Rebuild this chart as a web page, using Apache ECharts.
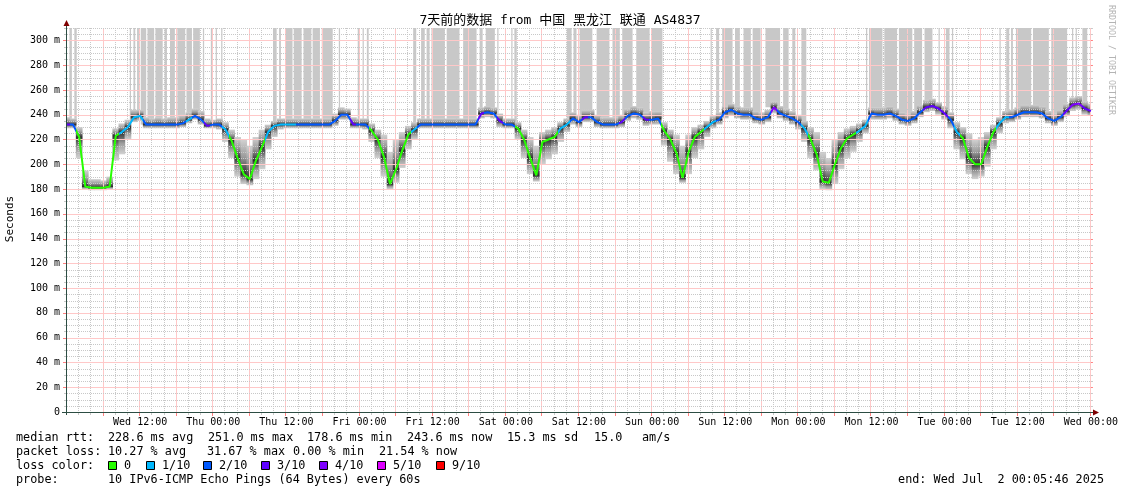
<!DOCTYPE html>
<html><head><meta charset="utf-8">
<script src="https://cdn.jsdelivr.net/npm/echarts@6/dist/echarts.min.js"></script>
<style>html,body{margin:0;padding:0;background:#fff}#c{width:1121px;height:494px}</style>
</head><body><div id="c"></div><script>
// hours since Wed Jun 25 00:00
const medianRtt = [
232,232,222,182,181,181,181,182,223,226,
230,238,239,232,232,232,232,232,232,233,
236,239,236,231,232,232,228,219,205,192,
188,203,214,226,231,232,232,232,232,232,
232,232,232,232,235,240,240,232,232,232,
227,220,206,184,196,211,224,228,232,232,
232,232,232,232,232,232,232,232,241,242,
241,235,232,232,229,220,205,191,218,220,
222,229,232,237,234,238,238,234,232,232,
232,234,239,241,240,236,236,237,227,220,
209,189,210,222,226,230,234,236,242,244,
241,240,240,237,236,238,246,241,239,237,
234,229,220,208,186,185,200,213,221,224,
227,231,241,240,240,241,239,236,235,237,
242,246,247,245,241,236,226,221,205,200,
200,214,226,233,238,238,240,242,242,242,
241,237,235,238,243,248,249,245,243];
const smokeLow = [
229,229,205,180,179,179,179,180,203,208,
220,234,235,229,229,229,229,229,229,230,
233,236,232,229,229,228,218,205,190,184,
183,188,196,212,222,228,229,229,229,229,
229,229,229,229,231,236,236,229,229,228,
218,205,190,180,185,197,212,220,229,229,
229,229,229,229,229,229,229,229,237,238,
237,230,229,229,220,205,192,186,200,204,
208,218,226,232,230,234,234,230,229,229,
229,230,235,237,236,231,232,232,215,202,
192,185,192,205,212,222,229,232,237,239,
237,236,236,233,232,234,241,237,235,232,
228,218,205,195,180,179,184,196,205,210,
218,225,236,236,236,237,235,232,231,233,
238,242,243,240,236,229,212,204,192,188,
190,198,212,225,233,234,236,238,238,238,
237,233,231,234,239,243,244,240,239];
const smokeHigh = [
238,237,230,195,188,188,187,190,229,233,
236,244,244,238,237,238,237,238,238,240,
242,245,243,237,236,237,234,228,222,220,
215,222,228,232,235,237,237,237,237,237,
237,237,237,237,241,246,245,238,237,237,
233,228,224,210,220,226,231,234,237,237,
237,237,237,237,237,237,237,237,246,247,
246,241,237,237,234,228,222,215,226,228,
230,234,237,242,240,244,244,240,238,238,
238,240,245,247,246,242,243,243,234,228,
224,215,224,230,232,235,239,242,247,249,
247,246,246,243,242,244,251,247,245,243,
240,235,230,226,210,205,220,226,229,231,
233,236,246,246,246,247,245,242,241,243,
248,252,253,250,247,242,234,230,225,220,
222,226,232,238,243,244,246,248,248,248,
247,243,241,244,249,254,255,251,249];
// loss level index: 0=0, 1=1/10, 2=2/10, 3=3/10, 4=4/10, 5=5/10, 6=9/10
const lossLevel = [
3,2,0,0,0,0,0,0,0,1,
1,1,1,2,2,2,2,2,2,2,
1,2,2,3,2,2,1,0,0,0,
0,0,0,1,1,1,1,1,2,2,
2,2,2,2,2,2,2,3,2,2,
0,0,0,0,0,0,0,1,2,2,
2,2,2,2,2,2,2,2,3,2,
2,3,2,2,0,0,0,0,0,0,
0,1,1,2,2,3,2,2,2,2,
2,3,2,2,2,3,2,2,0,0,
0,0,0,0,0,1,1,2,2,2,
2,2,2,2,2,2,4,2,2,2,
2,1,0,0,0,0,0,0,0,0,
1,1,2,2,2,2,2,2,2,2,
2,3,3,3,3,2,1,0,0,0,
0,0,0,1,1,2,2,2,2,2,
2,2,2,2,3,4,4,3,3];
// time ranges (hours) with lost pings (grey columns to the top)
const lossBars = [
[0.4,0.8],[1.2,1.6],
[10.3,10.5],[10.9,11.2],[11.5,11.8],[12.1,13.0],[13.2,14.3],[14.5,15.7],[16.0,16.4],[16.9,17.7],[18.1,19.4],[19.6,20.5],[20.7,21.8],[22.3,22.5],[23.6,23.8],[24.4,24.6],[25.3,25.5],
[33.8,34.4],[34.8,35.1],[35.9,37.0],[37.2,38.5],[38.8,40.1],[40.3,41.5],[41.8,43.6],[44.6,44.8],[47.7,48.0],[48.5,48.7],[49.2,49.5],
[56.8,57.3],[58.1,58.7],[59.0,59.5],[59.8,62.0],[62.3,64.4],[65.0,67.2],[67.7,68.2],[68.7,70.2],[70.6,70.8],[72.9,73.1],[73.4,73.8],
[82.0,82.8],[83.1,83.6],[84.1,86.2],[86.9,89.0],[89.5,90.7],[91.1,92.8],[93.4,95.6],[95.9,97.7],
[105.6,105.8],[106.5,107.0],[107.5,109.2],[109.6,110.4],[111.0,112.2],[112.5,113.8],[114.6,117.0],[117.5,118.4],[119.0,119.5],[120.5,121.3],
[131.1,131.3],[131.6,133.8],[134.1,136.2],[136.5,138.7],[139.0,140.3],[140.7,142.0],[143.0,143.2],[144.2,144.8],[145.2,145.4],
[153.0,153.2],[154.1,154.6],[154.9,155.2],[155.7,158.2],[158.5,161.1],[161.5,164.1],[164.9,165.1],[165.5,165.7],[166.6,167.4]];
const xTickHours = [12,24,36,48,60,72,84,96,108,120,132,144,156,168];
const xTickNames = ['Wed 12:00','Thu 00:00','Thu 12:00','Fri 00:00','Fri 12:00','Sat 00:00','Sat 12:00','Sun 00:00','Sun 12:00','Mon 00:00','Mon 12:00','Tue 00:00','Tue 12:00','Wed 00:00'];
const lossColors = ['#26ff00','#00b8ff','#0059ff','#5e00ff','#7e00ff','#dd00ff','#ff0000'];
const lossNames = ['0','1/10','2/10','3/10','4/10','5/10','9/10'];
// grid steps: minor / major (hours, ms)
const X_MIN=0, X_MAX=168, X_MINOR=2, X_MAJOR=6;
const Y_MIN=0, Y_MAX=310, Y_MINOR=5, Y_MAJOR=20;

const hours = medianRtt.map((v,i)=>i);
const medianData = medianRtt.map((v,i)=>[hours[i], v]);
const smokeData = medianRtt.map((v,i)=>[hours[i], smokeLow[i], smokeHigh[i], v]);
const barData = lossBars.map(b=>[b[0], b[1], medianRtt[Math.round((b[0]+b[1])/2)]]);
const gridX = []; for (let t=X_MIN+X_MINOR; t<=X_MAX; t+=X_MINOR) gridX.push([t, Y_MIN, t%X_MAJOR===0?1:0]);
const gridY = []; for (let v=Y_MIN+Y_MINOR; v<=Y_MAX; v+=Y_MINOR) gridY.push([X_MIN, v, v%Y_MAJOR===0?1:0]);
const pieces = [];
lossLevel.forEach((l,i)=>{
  const last = pieces[pieces.length-1];
  if (last && last.color === lossColors[l]) last.lt = i+0.5;
  else pieces.push({gte:i-0.5, lt:i+0.5, color:lossColors[l]});
});
pieces[0].gte = -10; pieces[pieces.length-1].lt = 500;

const MONO = '"DejaVu Sans Mono", monospace';
const chart = echarts.init(document.getElementById('c'), null, {renderer:'canvas'});
const g = [];
function txt(x,y,s,opt){ opt=opt||{}; g.push({type:'text', z:20, rotation:opt.rot||0, x:x, y:y,
  style:{text:s, x:0, y:0, font:(opt.font||'11.8px '+MONO), fill:opt.fill||'#000',
   textAlign:opt.align||'left', align:opt.align||'left', textVerticalAlign:'middle', verticalAlign:'middle'}}); }
txt(560,21,'7天前的数据 from 中国 黑龙江 联通 AS4837',{align:'center', font:'13px "DejaVu Sans Mono", "Noto Sans CJK SC"'});
txt(10,219,'Seconds',{align:'center', rot:Math.PI/2, font:'11px '+MONO});
txt(1111,60,'RRDTOOL / TOBI OETIKER',{align:'center', rot:-Math.PI/2, font:'8.3px '+MONO, fill:'#b4b4b4'});
// legend rows
txt(16,438,'median rtt:'); txt(108,438,'228.6 ms avg'); txt(208,438,'251.0 ms max'); txt(307,438,'178.6 ms min');
txt(407,438,'243.6 ms now'); txt(507,438,'15.3 ms sd'); txt(594,438,'15.0'); txt(642,438,'am/s');
txt(16,452,'packet loss:'); txt(108,452,'10.27 % avg'); txt(207,452,'31.67 % max'); txt(293,452,'0.00 % min'); txt(379,452,'21.54 % now');
txt(16,466,'loss color:');
const sqX = [108,146,203,261,319,377,436];
lossColors.forEach((c,i)=>{
  g.push({type:'rect', z:20, shape:{x:sqX[i]+0.5, y:461.5, width:8, height:8}, style:{fill:c, stroke:'#000', lineWidth:1}});
  txt(sqX[i]+16,466,lossNames[i]);
});
txt(16,480,'probe:'); txt(108,480,'10 IPv6-ICMP Echo Pings (64 Bytes) every 60s');
txt(1104,480,'end: Wed Jul  2 00:05:46 2025',{align:'right'});
// axes lines & arrows
g.push({type:'line', z:15, shape:{x1:66.5,y1:415,x2:66.5,y2:25}, style:{stroke:'#2c4d43', lineWidth:1}});
g.push({type:'line', z:15, shape:{x1:62,y1:412.5,x2:1094,y2:412.5}, style:{stroke:'#2c4d43', lineWidth:1}});
g.push({type:'polygon', z:16, shape:{points:[[63.5,26],[69.5,26],[66.5,20]]}, style:{fill:'#7f0000'}});
g.push({type:'polygon', z:16, shape:{points:[[1093,409.5],[1093,415.5],[1099,412.5]]}, style:{fill:'#7f0000'}});

const MINOR_C = '#c8c8c8', MAJOR_C = '#ffc8c8';
const labelStyle = {color:'#000', fontFamily:'DejaVu Sans Mono', fontSize:10};
const option = {
  animation:false,
  backgroundColor:'#fff',
  grid:{left:67, right:29, top:28, bottom:82, containLabel:false},
  xAxis:{type:'value', min:X_MIN, max:X_MAX, interval:X_MAJOR, axisLine:{show:false}, axisTick:{show:false},
     splitLine:{show:false},
     axisLabel:Object.assign({margin:5, formatter:v=>{const k=xTickHours.indexOf(v); return k>=0?xTickNames[k]:'';}}, labelStyle)},
  yAxis:{type:'value', min:Y_MIN, max:Y_MAX, interval:Y_MINOR, axisLine:{show:false}, axisTick:{show:false},
     splitLine:{show:false},
     axisLabel:Object.assign({margin:7, formatter:v=> (v%Y_MAJOR===0 && v<=300) ? (v===0?'0':v+' m') : ''}, labelStyle)},
  visualMap:{type:'piecewise', show:false, dimension:0, seriesIndex:2, pieces:pieces},
  series:[
    {type:'custom', z:1, clip:true, data:barData, encode:{x:[0,1], y:2},
     renderItem:(p,api)=>{
       const a = api.coord([api.value(0), Y_MAX]); const b = api.coord([api.value(1), api.value(2)]);
       return {type:'rect', shape:{x:a[0], y:a[1], width:Math.max(1,b[0]-a[0]), height:b[1]-a[1]}, style:{fill:'#c8c8c8'}};
     }},
    {type:'custom', z:2, clip:true, data:smokeData, encode:{x:0, y:[1,2]},
     renderItem:(p,api)=>{
       const t=api.value(0), lo=api.value(1), hi=api.value(2), md=api.value(3);
       const a = api.coord([t-0.5, hi]); const b = api.coord([t+0.5, lo]);
       let m = (hi-md)/Math.max(1,(hi-lo)); m=Math.min(0.98,Math.max(0.02,m));
       return {type:'rect', shape:{x:a[0]-0.3, y:a[1], width:b[0]-a[0]+0.6, height:b[1]-a[1]},
         style:{fill:new echarts.graphic.LinearGradient(0,0,0,1,[
           {offset:0,color:'#d2d2d2'},{offset:m/2,color:'#9c9c9c'},{offset:m,color:'#2e2e2e'},
           {offset:(1+m)/2,color:'#9c9c9c'},{offset:1,color:'#d2d2d2'}])}};
     }},
    {type:'line', z:5, data:medianData, symbol:'none', lineStyle:{width:2}, silent:true},
    // vertical grid (time)
    {type:'custom', z:3, clip:false, silent:true, data:gridX, encode:{x:0, y:1},
     renderItem:(p,api)=>{
       const t=api.value(0), major=api.value(2)===1;
       const a=api.coord([t, Y_MIN]), b=api.coord([t, Y_MAX]); const x=Math.round(a[0])-0.5;
       const col = major?MAJOR_C:MINOR_C;
       return {type:'group', children:[
         {type:'line', shape:{x1:x,y1:Math.round(b[1]),x2:x,y2:Math.round(a[1])}, style:{stroke:col, lineWidth:1, lineDash:major?null:[1,1]}},
         {type:'line', shape:{x1:x,y1:Math.round(a[1])+1,x2:x,y2:Math.round(a[1])+(major?4:3)}, style:{stroke:major?'#ff8080':col, lineWidth:1}}]};
     }},
    // horizontal grid (ms)
    {type:'custom', z:3, clip:false, silent:true, data:gridY, encode:{x:0, y:1},
     renderItem:(p,api)=>{
       const v=api.value(1), major=api.value(2)===1;
       const a=api.coord([X_MIN, v]), b=api.coord([X_MAX, v]); const y=Math.round(a[1])+0.5;
       const col = major?MAJOR_C:MINOR_C;
       return {type:'group', children:[
         {type:'line', shape:{x1:Math.round(a[0]),y1:y,x2:Math.round(b[0]),y2:y}, style:{stroke:col, lineWidth:1, lineDash:major?null:[1,1]}},
         {type:'line', shape:{x1:a[0]-(major?4:3),y1:y,x2:a[0]-1,y2:y}, style:{stroke:major?'#ff8080':col, lineWidth:1}},
         {type:'line', shape:{x1:b[0],y1:y,x2:b[0]+2,y2:y}, style:{stroke:major?'#ff8080':col, lineWidth:1}}]};
     }}
  ],
  graphic:g
};
chart.setOption(option);
</script></body></html>
